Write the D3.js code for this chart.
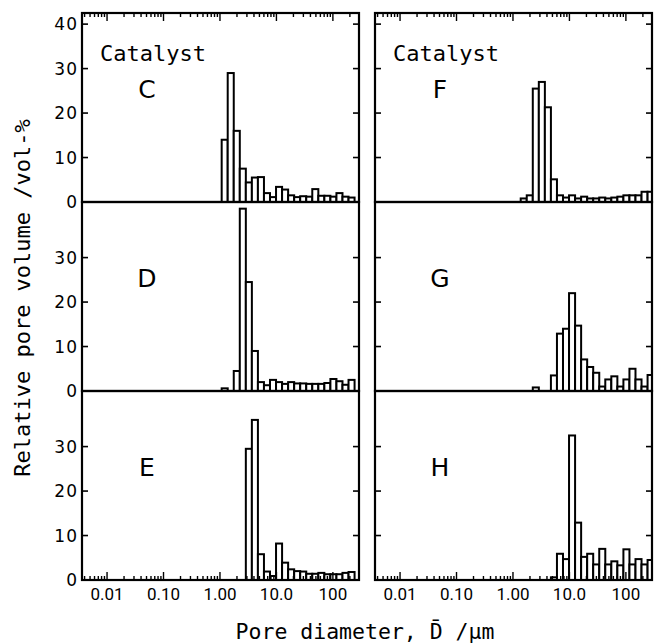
<!DOCTYPE html>
<html>
<head>
<meta charset="utf-8">
<script src="https://cdn.jsdelivr.net/npm/d3@7"></script>
<style>
body{margin:0;background:#fff;}
</style>
</head>
<body>
<div id="chart"></div>
<script>
// bin edges of the pore size histogram, um (bar i spans binEdges[i]..binEdges[i+1])
var binEdges = [0.512, 0.655, 0.838, 1.072, 1.371, 1.754, 2.244, 2.871, 3.673, 4.699,
    6.012, 7.691, 9.840, 12.59, 16.11, 20.61, 26.36, 33.73, 43.15, 55.21,
    70.63, 90.36, 115.6, 147.9, 189.2, 242.1, 309.7];

// relative pore volume, vol-%, per bin, starting at binEdges[startX]
var startC = 3;
var valuesC = [14, 29, 16, 7.5, 4.4, 5.5, 5.6, 2.0, 1.1, 3.4, 2.8, 1.5, 1.1, 1.3, 1.2, 2.9, 1.4, 1.4, 1.2, 2.0, 1.2, 1.0];
var startD = 3;
var valuesD = [0.6, 0, 4.5, 41, 24.5, 9, 2, 1.3, 2.5, 2, 1.6, 2, 1.7, 1.7, 1.6, 1.6, 1.6, 1.8, 2.7, 2.2, 1.4, 2.5];
var startE = 3;
var valuesE = [0, 0, 0, 0, 29.5, 36, 5.8, 1.9, 0.9, 8.2, 3.9, 2.4, 2.0, 1.9, 1.4, 1.4, 1.6, 1.3, 1.3, 1.3, 1.6, 1.8];
var startF = 4;
var valuesF = [0.8, 1.5, 25.5, 27, 21.3, 5.1, 1.5, 1.0, 1.5, 0.8, 1.2, 0.8, 0.8, 1.0, 0.8, 1.0, 1.2, 1.5, 1.5, 1.5, 2.3, 2.3];
var startG = 6;
var valuesG = [0.8, 0, 0, 3.5, 12.9, 14, 22, 14.7, 7.1, 5.4, 4.1, 1.0, 2.6, 3.3, 1.0, 2.6, 5.0, 2.6, 1.0, 3.6];
var startH = 9;
var valuesH = [0.6, 5.9, 4.7, 32.5, 12.9, 5.2, 5.9, 3.5, 7.0, 3.5, 4.2, 3.3, 6.9, 3.5, 4.7, 3.5, 4.5];

var panelNames = ["C", "D", "E", "F", "G", "H"];
var xTickValues = [0.01, 0.1, 1, 10, 100];
var xTickLabels = ["0.01", "0.10", "1.00", "10.0", "100"];
var yTickValues = [0, 10, 20, 30, 40];

var panels = [
    {name: "C", col: 0, row: 0, start: startC, values: valuesC},
    {name: "D", col: 0, row: 1, start: startD, values: valuesD},
    {name: "E", col: 0, row: 2, start: startE, values: valuesE},
    {name: "F", col: 1, row: 0, start: startF, values: valuesF},
    {name: "G", col: 1, row: 1, start: startG, values: valuesG},
    {name: "H", col: 1, row: 2, start: startH, values: valuesH}
];

// 0.size
var svgW = 660, svgH = 643;
var colX = [82, 375];
var rowY = [13, 202, 391];
var pw = 277, ph = 189;

var x = d3.scaleLog().domain([0.0036, 290]).range([0, pw]);
var y = d3.scaleLinear().domain([0, 42.5]).range([ph, 0]);

var svg = d3.select("#chart").append("svg")
    .attr("width", svgW).attr("height", svgH)
    .style("font-family", "DejaVu Sans, sans-serif");

svg.append("defs").append("clipPath").attr("id", "clipPanel")
    .append("rect").attr("x", 0).attr("y", -2).attr("width", pw).attr("height", ph + 2);

// minor + major log ticks
var logTicks = [];
for (var e = -3; e <= 2; e++) {
    for (var m = 1; m <= 9; m++) {
        var v = m * Math.pow(10, e);
        if (v >= x.domain()[0] && v <= x.domain()[1]) logTicks.push({v: v, major: m == 1});
    }
}

panels.forEach(function (p) {
    var g = svg.append("g")
        .attr("transform", "translate(" + colX[p.col] + "," + rowY[p.row] + ")");

    var bars = [];
    p.values.forEach(function (v, i) {
        if (v > 0) bars.push({d0: binEdges[p.start + i], d1: binEdges[p.start + i + 1], v: v});
    });

    g.append("g").attr("clip-path", "url(#clipPanel)")
        .selectAll(".bar").data(bars).enter().append("rect")
        .attr("class", "bar")
        .attr("x", function (d) { return x(d.d0); })
        .attr("width", function (d) { return x(d.d1) - x(d.d0); })
        .attr("y", function (d) { return y(d.v); })
        .attr("height", function (d) { return y(0) - y(d.v); })
        .attr("fill", "white")
        .attr("stroke", "black")
        .attr("stroke-width", 2);

    // y ticks, both sides, inward
    var yt = yTickValues.filter(function (t) { return t > 0 && (p.row == 0 || t < 40); });
    g.selectAll(".ytl").data(yt).enter().append("line")
        .attr("x1", 0).attr("x2", 6)
        .attr("y1", function (d) { return y(d); }).attr("y2", function (d) { return y(d); })
        .attr("stroke", "black").attr("stroke-width", 1.6);
    g.selectAll(".ytr").data(yt).enter().append("line")
        .attr("x1", pw - 6).attr("x2", pw)
        .attr("y1", function (d) { return y(d); }).attr("y2", function (d) { return y(d); })
        .attr("stroke", "black").attr("stroke-width", 1.6);

    if (p.col == 0) {
        g.selectAll(".ylab").data(yTickValues.filter(function (t) { return p.row == 0 || t < 40; }))
            .enter().append("text")
            .attr("x", -4).attr("y", function (d) { return y(d); })
            .attr("dy", "0.36em")
            .attr("text-anchor", "end")
            .style("font-size", "17px")
            .style("letter-spacing", "1px")
            .text(function (d) { return d; });
    }

    // x ticks on top of upper panels and bottom of lower panels
    if (p.row == 0 || p.row == 2) {
        var top = p.row == 0;
        g.selectAll(".xt").data(logTicks).enter().append("line")
            .attr("x1", function (d) { return x(d.v); }).attr("x2", function (d) { return x(d.v); })
            .attr("y1", top ? 0 : ph)
            .attr("y2", function (d) { var l = d.major ? 8 : 4; return top ? l : ph - l; })
            .attr("stroke", "black").attr("stroke-width", 1.4);
    }
    if (p.row == 2) {
        g.selectAll(".xlab").data(xTickValues).enter().append("text")
            .attr("x", function (d) { return x(d); })
            .attr("y", ph + 20)
            .attr("text-anchor", "middle")
            .style("font-family", "Liberation Sans Narrow, Roboto, sans-serif")
            .style("font-size", "17px")
            .text(function (d, i) { return xTickLabels[i]; });
    }

    // frame
    g.append("rect").attr("x", 0).attr("y", 0).attr("width", pw).attr("height", ph)
        .attr("fill", "none").attr("stroke", "black").attr("stroke-width", 2.2);

    if (p.row == 0) {
        g.append("text").attr("x", 18).attr("y", 48)
            .style("font-family", "DejaVu Sans Mono, monospace")
            .style("font-size", "22px")
            .text("Catalyst");
    }
    g.append("text").attr("x", 65).attr("y", 85)
        .attr("text-anchor", "middle")
        .style("font-size", "25px")
        .text(p.name);
});

svg.append("text")
    .attr("transform", "translate(30,298) rotate(-90)")
    .attr("text-anchor", "middle")
    .style("font-family", "DejaVu Sans Mono, monospace")
    .style("font-size", "22px")
    .text("Relative pore volume /vol-%");

svg.append("text")
    .attr("x", 365).attr("y", 639)
    .attr("text-anchor", "middle")
    .style("font-family", "DejaVu Sans Mono, monospace")
    .style("font-size", "21.5px")
    .text("Pore diameter, D\u0304 /\u03bcm");
</script>
</body>
</html>
